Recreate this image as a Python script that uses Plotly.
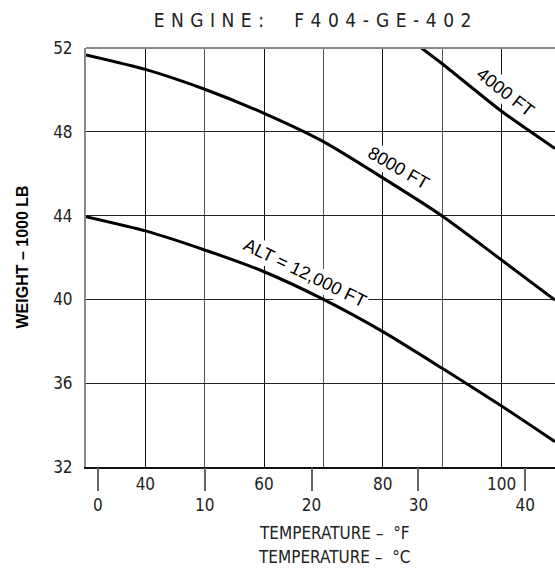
import plotly.graph_objects as go

# ---- data (temperature in deg F, weight in 1000 lb) ----
temp_12000 = [30, 40, 50, 60, 70, 80, 90, 100, 109]
wt_12000 = [43.95, 43.27, 42.36, 41.32, 40.0, 38.46, 36.71, 34.91, 33.21]

temp_8000 = [30, 40, 50, 60, 70, 80, 90, 100, 109]
wt_8000 = [51.67, 50.98, 50.03, 48.88, 47.53, 45.8, 43.98, 41.88, 39.97]

temp_4000 = [86.5, 90, 100, 109]
wt_4000 = [52.0, 51.25, 48.98, 47.2]

f_ticks = [40, 60, 80, 100]
c_ticks = [0, 10, 20, 30, 40]
y_ticks = [32, 36, 40, 44, 48, 52]

F_RANGE = [30, 109.0]
C_RANGE = [(F_RANGE[0] - 32) / 1.8, (F_RANGE[1] - 32) / 1.8]

NARROW = "Liberation Sans Narrow, DejaVu Sans Condensed, Arial Narrow, sans-serif"
REG = "Liberation Sans, Arial, sans-serif"

fig = go.Figure()
line = dict(color="black", width=3, shape="spline", smoothing=0.6)
fig.add_trace(go.Scatter(x=temp_12000, y=wt_12000, mode="lines", line=line, showlegend=False))
fig.add_trace(go.Scatter(x=temp_8000, y=wt_8000, mode="lines", line=line, showlegend=False))
fig.add_trace(go.Scatter(x=temp_4000, y=wt_4000, mode="lines", line=line, showlegend=False))
# empty trace to bind the Celsius axis
fig.add_trace(go.Scatter(x=[], y=[], xaxis="x2", showlegend=False))

fig.update_layout(
    width=555, height=571,
    margin=dict(l=86, r=0, t=48, b=104, autoexpand=False),
    plot_bgcolor="white", paper_bgcolor="white",
    font=dict(family=NARROW, size=17, color="#222"),
    title=dict(
        text='<span style="letter-spacing:6.5px">ENGINE:  F404-GE-402</span>',
        x=0.49, xref="paper", xanchor="center", y=0.965, yanchor="middle",
        font=dict(family=NARROW, size=19, color="#222"),
        automargin=False,
    ),
    xaxis=dict(
        range=F_RANGE, tickvals=f_ticks, ticks="", showgrid=True, automargin=False,
        gridcolor="#111", gridwidth=1,
        minor=dict(dtick=10, tick0=0, showgrid=True, gridcolor="#555", gridwidth=1.2),
        showline=True, linecolor="#111", linewidth=1.5, mirror=False,
        zeroline=False, ticklabelstandoff=1,
        tickfont=dict(family=NARROW, size=17, color="#222"),
    ),
    xaxis2=dict(
        range=C_RANGE, overlaying="x", side="bottom", anchor="y", automargin=False,
        tickvals=c_ticks, ticks="outside", ticklen=23, tickwidth=2, tickcolor="#666",
        showgrid=False, showline=False, zeroline=False, ticklabelstandoff=0,
        tickfont=dict(family=NARROW, size=17, color="#222"),
    ),
    yaxis=dict(
        range=[32, 52], tickvals=y_ticks, ticks="", showgrid=True, automargin=False,
        gridcolor="#222", gridwidth=1,
        showline=True, linecolor="#888", linewidth=2, mirror=False,
        zeroline=False, ticklabelstandoff=8,
        tickfont=dict(family=NARROW, size=17, color="#222"),
    ),
)

# top frame line
fig.add_shape(type="line", xref="paper", yref="paper", x0=0, x1=1, y0=1, y1=1,
              line=dict(color="#888", width=2))

# curve labels
lab_font = dict(family=REG, size=18, color="black")
fig.add_annotation(x=66.9, y=41.26, text="ALT = 12,000 FT", textangle=26, showarrow=False,
                   font=lab_font, bgcolor="white")
fig.add_annotation(x=82.6, y=46.27, text="8000 FT", textangle=30, showarrow=False,
                   font=lab_font, bgcolor="white")
fig.add_annotation(x=100.6, y=49.9, text="4000 FT", textangle=38, showarrow=False,
                   font=lab_font, bgcolor="white")

# axis titles
fig.add_annotation(xref="paper", yref="paper", x=0.5, y=0, xshift=14, yshift=-66,
                   xanchor="center", yanchor="middle",
                   text="TEMPERATURE \u2013  \u00b0F", showarrow=False,
                   font=dict(family=NARROW, size=17, color="#222"))
fig.add_annotation(xref="paper", yref="paper", x=0.5, y=0, xshift=14, yshift=-90,
                   xanchor="center", yanchor="middle",
                   text="TEMPERATURE \u2013  \u00b0C", showarrow=False,
                   font=dict(family=NARROW, size=17, color="#222"))
fig.add_annotation(xref="paper", yref="paper", x=0, y=0.5, xshift=-64, textangle=-90,
                   xanchor="center", yanchor="middle",
                   text="<b>WEIGHT \u2013 1000 LB</b>", showarrow=False,
                   font=dict(family=REG, size=16, color="black"))

fig.write_html("out.html",
               config={"displayModeBar": False, "staticPlot": True},
               post_script="document.body.style.margin='0';document.body.style.overflow='hidden';")
